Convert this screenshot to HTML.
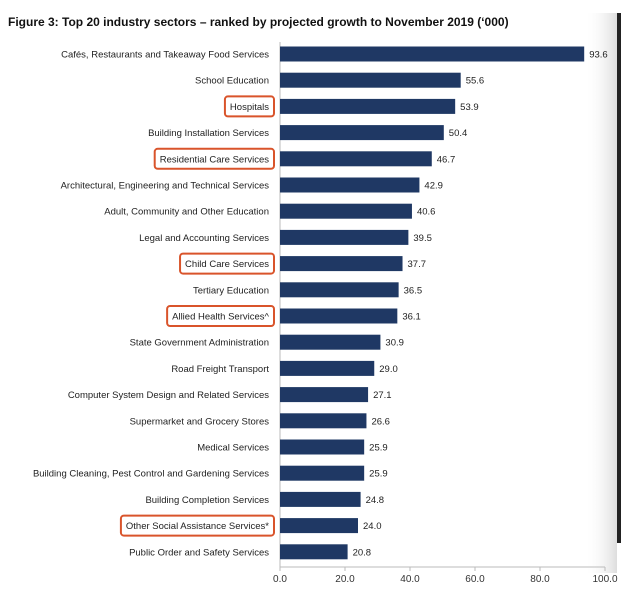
<!DOCTYPE html>
<html><head><meta charset="utf-8"><style>
body{margin:0;background:#fff;width:621px;height:592px;overflow:hidden;font-family:"Liberation Sans",sans-serif}
</style></head><body>
<svg width="621" height="592" id="c">
<defs><linearGradient id="g" x1="0" x2="1" y1="0" y2="0"><stop offset="0" stop-color="#fff" stop-opacity="0"/><stop offset="1" stop-color="#ddd"/></linearGradient></defs>
<rect x="585" y="13" width="32" height="560" fill="url(#g)"/>
<rect x="617" y="13" width="4" height="530" fill="#222"/>
<text x="8" y="26" font-size="12" font-weight="bold" fill="#111">Figure 3: Top 20 industry sectors – ranked by projected growth to November 2019 (‘000)</text>
</svg>
<script>
const categories=["Cafés, Restaurants and Takeaway Food Services","School Education","Hospitals","Building Installation Services","Residential Care Services","Architectural, Engineering and Technical Services","Adult, Community and Other Education","Legal and Accounting Services","Child Care Services","Tertiary Education","Allied Health Services^","State Government Administration","Road Freight Transport","Computer System Design and Related Services","Supermarket and Grocery Stores","Medical Services","Building Cleaning, Pest Control and Gardening Services","Building Completion Services","Other Social Assistance Services*","Public Order and Safety Services"];
const values=[93.6,55.6,53.9,50.4,46.7,42.9,40.6,39.5,37.7,36.5,36.1,30.9,29.0,27.1,26.6,25.9,25.9,24.8,24.0,20.8];
const highlighted=[2,4,8,10,18];
const ticks=[0,20,40,60,80,100];
const svg=document.getElementById('c');const NS="http://www.w3.org/2000/svg";
const x0=280,xs=3.25,y0=54,step=26.2,bh=15,axisY=567;
const X=v=>x0+v*xs, Y=i=>y0+i*step;
function mk(t,a){const e=document.createElementNS(NS,t);for(const k in a)e.setAttribute(k,a[k]);svg.appendChild(e);return e;}
let ax=mk('line',{x1:x0,y1:42,x2:x0,y2:axisY,stroke:'#bbb'});


let bx=mk('line',{x1:x0,y1:axisY,x2:X(100),y2:axisY,stroke:'#bbb'});


ticks.forEach(t=>{
 let tl=mk('line',{x1:X(t),y1:axisY,x2:X(t),y2:axisY+4,stroke:'#bbb'});
 
 
 let tx=mk('text',{x:X(t),y:axisY+15,'font-size':10,'text-anchor':'middle',fill:'#333'});tx.textContent=t.toFixed(1);
 
 
});
categories.forEach((c,i)=>{
 const y=Y(i);
 let b=mk('rect',{x:x0,y:y-bh/2,width:values[i]*xs,height:bh,fill:'#1f3864'});
 
 
 let l=mk('text',{x:269,y:y+3.5,'font-size':9.5,'text-anchor':'end',fill:'#222'});l.textContent=c;
 
 
 let v=mk('text',{x:X(values[i])+5,y:y+3.5,'font-size':9.5,fill:'#222'});v.textContent=values[i].toFixed(1);
 
 
 if(highlighted.includes(i)){
  const w=l.getComputedTextLength();
  let r=mk('rect',{x:269-w-5,y:y-10,width:w+10,height:20,rx:3,fill:'none',stroke:'#d9542b','stroke-width':2});
  
  
 }
});
</script>
</body></html>
